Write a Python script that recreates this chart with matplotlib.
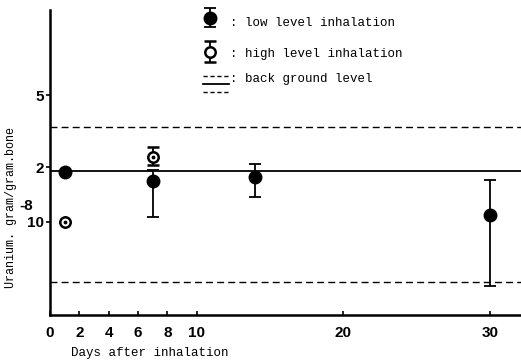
import numpy as np
import matplotlib
matplotlib.use("Agg")
import matplotlib.pyplot as plt
from matplotlib.ticker import NullLocator

# uranium in bone (x 1e-8 g/g bone)
low_days = [1, 7, 14, 30]
low_vals = [1.89, 1.69, 1.77, 1.09]
low_min = [1.89, 1.07, 1.38, 0.44]
low_max = [1.89, 1.93, 2.09, 1.71]

high_days = [1, 7]
high_vals = [1.0, 2.29]
high_min = [1.0, 2.05]
high_max = [1.0, 2.60]

bg_mean = 1.90
bg_low = 0.467
bg_high = 3.35

xticks = [0, 2, 4, 6, 8, 10, 20, 30]
yticks = [1, 2, 5]
ytick_labels = ['10', '2', '5']

scale = 1e-8
mono = 'Liberation Mono'
sans = 'Liberation Sans'

fig = plt.figure(figsize=(5.21, 3.61), dpi=100)
ax = fig.add_axes([50/521, 1-315/361, 1-50/521, 305/361])

ax.set_yscale('log')
ax.set_xlim(0, 32.1)
ax.set_ylim(0.306*scale, 14.8*scale)

# background levels
ax.axhline(bg_mean*scale, color='black', lw=1.3)
ax.axhline(bg_low*scale, color='black', lw=1.0, ls=(0, (5, 3)))
ax.axhline(bg_high*scale, color='black', lw=1.0, ls=(0, (5, 3)))

lv = np.array(low_vals)*scale
ax.errorbar(low_days, lv,
            yerr=[lv-np.array(low_min)*scale, np.array(low_max)*scale-lv],
            fmt='o', color='black', ms=9, elinewidth=1.3, capsize=4,
            capthick=1.3, zorder=3)

hv = np.array(high_vals)*scale
ax.errorbar(high_days, hv,
            yerr=[hv-np.array(high_min)*scale, np.array(high_max)*scale-hv],
            fmt='o', color='black', mfc='white', mec='black', mew=1.8, ms=7.5,
            elinewidth=1.3, capsize=4, capthick=1.3, zorder=3)
ax.plot(high_days, hv, '.', color='black', ms=3.5, zorder=4)

for s in ['top', 'right']:
    ax.spines[s].set_visible(False)
for s in ['left', 'bottom']:
    ax.spines[s].set_linewidth(1.8)

ax.set_xticks(xticks)
ax.set_xticklabels([str(t) for t in xticks], fontfamily=sans,
                   fontweight='bold', fontsize=11)
ax.set_yticks([t*scale for t in yticks])
ax.set_yticklabels(ytick_labels, fontfamily=sans, fontweight='bold',
                   fontsize=11)
ax.yaxis.set_minor_locator(NullLocator())
ax.tick_params(axis='x', direction='in', length=3, width=1.2, pad=8)
ax.tick_params(axis='y', direction='out', length=3, width=1.2, pad=1)

# exponent over the 10
ax.text(-0.051, 1.22*scale, '-8', transform=ax.get_yaxis_transform(),
        fontfamily=sans, fontweight='bold', fontsize=11,
        ha='center', va='center')

fig.text(150/521, 1-353/361, 'Days after inhalation', fontfamily=mono,
         fontsize=9, ha='center', va='center')
fig.text(11/521, 1-207/361, 'Uranium. gram/gram.bone', fontfamily=mono,
         fontsize=8.5, rotation=90, ha='center', va='center')

# key in pixel coordinates
key = fig.add_axes([0, 0, 1, 1])
key.set_xlim(0, 521)
key.set_ylim(361, 0)
key.axis('off')
key.errorbar([210], [18], yerr=[[10], [9]], fmt='o', color='black', ms=9,
             elinewidth=1.3, capsize=4, capthick=1.3)
key.errorbar([210], [52], yerr=[[11], [10]], fmt='o', color='black',
             mfc='white', mec='black', mew=1.8, ms=7.5, elinewidth=1.3,
             capsize=4, capthick=1.3)
key.plot([210], [52], '.', color='black', ms=3.5)
key.plot([203, 229], [76, 76], color='black', lw=1.0, ls=(0, (3, 2)))
key.plot([203, 229], [84, 84], color='black', lw=1.3)
key.plot([203, 229], [92, 92], color='black', lw=1.0, ls=(0, (3, 2)))
key.text(230, 23, ': low level inhalation', fontfamily=mono, fontsize=9,
         va='center')
key.text(230, 54, ': high level inhalation', fontfamily=mono, fontsize=9,
         va='center')
key.text(230, 79, ': back ground level', fontfamily=mono, fontsize=9,
         va='center')

fig.savefig('out.png', dpi=100)
